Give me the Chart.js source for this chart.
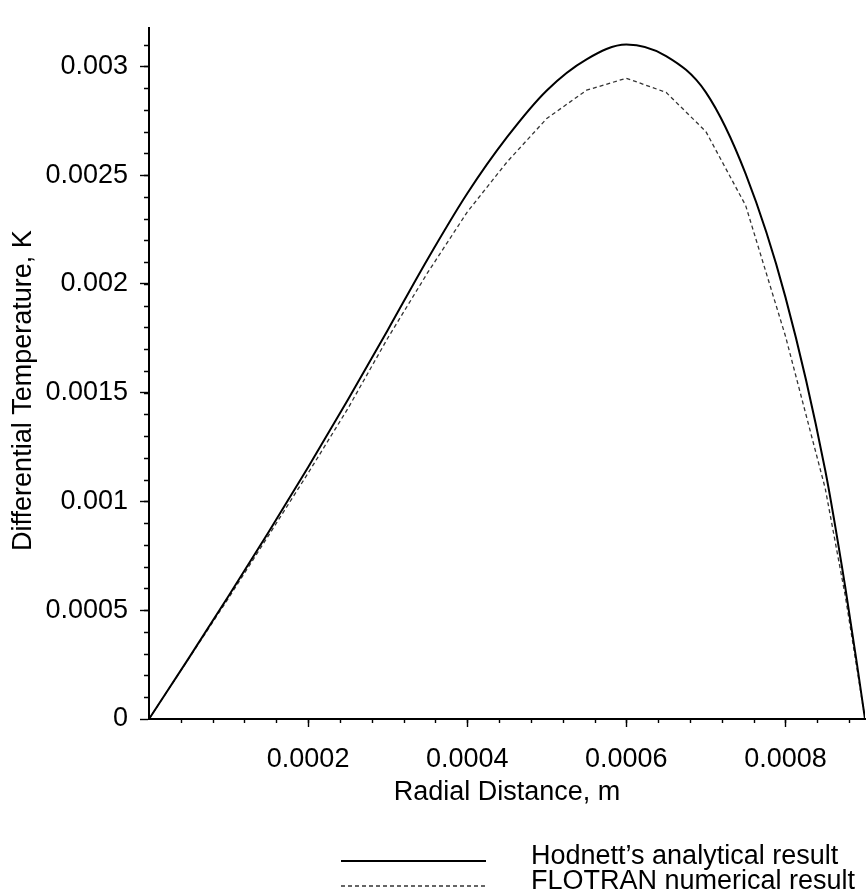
<!DOCTYPE html>
<html>
<head>
<meta charset="utf-8">
<script src="https://cdn.jsdelivr.net/npm/chart.js@4.4.1/dist/chart.umd.min.js"></script>
<style>
  html, body { margin: 0; padding: 0; background: #fff; }
  canvas { display: block; }
</style>
</head>
<body>
<canvas id="c" width="866" height="896"></canvas>
<script>
// ---- data ----
const radialDistance = [0, 0.00005, 0.0001, 0.00015, 0.0002, 0.00025, 0.0003, 0.00035, 0.0004, 0.00045,
  0.0005, 0.00055, 0.0006, 0.00065, 0.0007, 0.00075, 0.0008, 0.00085, 0.000875, 0.00089, 0.0009];
const hodnettAnalytical = [0, 0.00028, 0.000565, 0.000857, 0.001157, 0.001467, 0.001787, 0.002112, 0.002415, 0.002674,
  0.002889, 0.003032, 0.0031, 0.003047, 0.00288, 0.002505, 0.001939, 0.001143, 0.00061, 0.00025, 0];
const flotranNumerical = [0, 0.000278, 0.000556, 0.000842, 0.00113, 0.001427, 0.00175, 0.00205, 0.00233, 0.00256,
  0.00276, 0.00289, 0.002945, 0.00288, 0.0027, 0.00236, 0.00176, 0.00106, 0.00057, 0.00023, 0];
const seriesLabels = ["Hodnett\u2019s analytical result", "FLOTRAN numerical result"];
const xTickValues = [0.0002, 0.0004, 0.0006, 0.0008];
const yTickValues = [0, 0.0005, 0.001, 0.0015, 0.002, 0.0025, 0.003];
const xMinorStep = 0.00004;
const yMinorStep = 0.0001;
const xTitle = "Radial Distance, m";
const yTitle = "Differential Temperature, K";

const FONT = '"Liberation Sans", Arial, Helvetica, sans-serif';
const FS = 27;

function toPoints(xs, ys) { return xs.map((x, i) => ({ x: x, y: ys[i] })); }

const minorTicks = {
  id: 'minorTicks',
  afterDraw(chart) {
    const ctx = chart.ctx, xs = chart.scales.x, ys = chart.scales.y;
    ctx.save();
    ctx.strokeStyle = '#000';
    ctx.lineWidth = 1.4;
    ctx.beginPath();
    for (let k = 1; k * yMinorStep <= ys.max + 1e-12; k++) {
      const p = Math.round(ys.getPixelForValue(k * yMinorStep)) + 0.5;
      ctx.moveTo(ys.right - 5, p); ctx.lineTo(ys.right, p);
    }
    for (let k = 1; k * xMinorStep < xs.max - 1e-12; k++) {
      const p = Math.round(xs.getPixelForValue(k * xMinorStep)) + 0.5;
      ctx.moveTo(p, xs.top); ctx.lineTo(p, xs.top + 4);
    }
    ctx.stroke();
    ctx.restore();
  }
};

// y-axis title, drawn rotated beside the y scale
const yAxisTitle = {
  id: 'yAxisTitle',
  afterDraw(chart) {
    const ctx = chart.ctx, ys = chart.scales.y;
    ctx.save();
    ctx.translate(24, (ys.top + ys.bottom) / 2 + 17);
    ctx.rotate(-Math.PI / 2);
    ctx.fillStyle = '#000';
    ctx.font = FS + 'px ' + FONT;
    ctx.textAlign = 'center';
    ctx.textBaseline = 'middle';
    ctx.fillText(yTitle, 0, 0);
    ctx.restore();
  }
};

const lineLegend = {
  id: 'lineLegend',
  afterDraw(chart) {
    const ctx = chart.ctx;
    const rows = [861, 886];
    ctx.save();
    chart.data.datasets.forEach((ds, i) => {
      const y = rows[i];
      ctx.beginPath();
      ctx.strokeStyle = ds.borderColor;
      ctx.lineWidth = ds.borderWidth;
      ctx.setLineDash(ds.borderDash || []);
      ctx.moveTo(341, y); ctx.lineTo(486, y);
      ctx.stroke();
      ctx.setLineDash([]);
      ctx.fillStyle = '#000';
      ctx.font = FS + 'px ' + FONT;
      ctx.textAlign = 'left';
      ctx.textBaseline = 'middle';
      ctx.fillText(ds.label, 531, y - 4);
    });
    ctx.restore();
  }
};

new Chart(document.getElementById('c'), {
  type: 'line',
  data: {
    datasets: [
      {
        label: seriesLabels[0],
        data: toPoints(radialDistance, hodnettAnalytical),
        borderColor: '#000',
        borderWidth: 2,
        pointRadius: 0,
        cubicInterpolationMode: 'monotone',
        fill: false
      },
      {
        label: seriesLabels[1],
        data: toPoints(radialDistance, flotranNumerical),
        borderColor: '#333',
        borderWidth: 1.3,
        borderDash: [4, 3],
        pointRadius: 0,
        tension: 0,
        fill: false
      }
    ]
  },
  options: {
    responsive: false,
    animation: false,
    layout: { padding: { top: 11, right: 1, left: 0, bottom: 0 } },
    plugins: { legend: { display: false }, tooltip: { enabled: false } },
    scales: {
      x: {
        type: 'linear',
        min: 0,
        max: 0.0009,
        afterFit(s) { s.height = 177; },
        afterBuildTicks(s) { s.ticks = xTickValues.map(v => ({ value: v })); },
        border: { display: true, color: '#000', width: 2 },
        grid: { drawOnChartArea: false, drawTicks: true, tickLength: 8, tickColor: '#000', tickWidth: 1.4 },
        ticks: {
          color: '#000',
          font: { family: FONT, size: FS },
          padding: 16,
          maxRotation: 0,
          autoSkip: false,
          callback: v => String(v)
        },
        title: {
          display: true,
          text: xTitle,
          color: '#000',
          font: { family: FONT, size: FS },
          padding: { top: 0, bottom: 87 }
        }
      },
      y: {
        type: 'linear',
        min: 0,
        max: 0.003175,
        afterFit(s) { s.width = 149; },
        afterBuildTicks(s) { s.ticks = yTickValues.map(v => ({ value: v })); },
        border: { display: true, color: '#000', width: 2 },
        grid: { drawOnChartArea: false, drawTicks: true, tickLength: 9, tickColor: '#000', tickWidth: 1.4 },
        ticks: {
          color: '#000',
          font: { family: FONT, size: FS },
          padding: 12,
          autoSkip: false,
          callback: v => String(v)
        },
        title: { display: false }
      }
    }
  },
  plugins: [minorTicks, yAxisTitle, lineLegend]
});
</script>
</body>
</html>
